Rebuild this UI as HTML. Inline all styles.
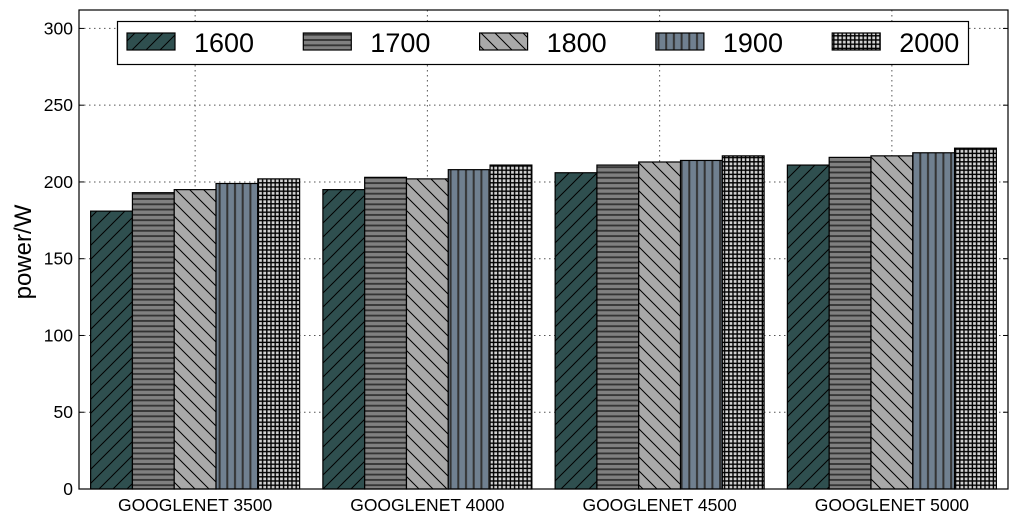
<!DOCTYPE html>
<html><head><meta charset="utf-8"><style>
body{margin:0;background:#fff;}
svg{display:block;font-family:"Liberation Sans",sans-serif;}
</style></head><body>
<svg id="chart" width="1018" height="523">
<defs>
<pattern id="p0" width="14" height="14" patternUnits="userSpaceOnUse"><rect width="14" height="14" fill="#2f4f4f"/><path d="M-1,15 L15,-1 M-2,2 L2,-2 M12,16 L16,12" stroke="#000" stroke-width="1"/></pattern>
<pattern id="p1" width="5.3" height="5.3" patternUnits="userSpaceOnUse"><rect width="5.3" height="5.3" fill="#808080"/><rect y="2" width="5.3" height="1.8" fill="#333"/></pattern>
<pattern id="p2" width="14" height="14" patternUnits="userSpaceOnUse"><rect width="14" height="14" fill="#a9a9a9"/><path d="M-1,-1 L15,15 M-2,12 L2,16 M12,-2 L16,2" stroke="#000" stroke-width="1"/></pattern>
<pattern id="p3" width="7.7" height="8" patternUnits="userSpaceOnUse"><rect width="7.7" height="8" fill="#708090"/><rect x="3" width="2" height="8" fill="#333"/></pattern>
<pattern id="p4" width="4.2" height="4.2" patternUnits="userSpaceOnUse"><rect width="4.2" height="4.2" fill="#d3d3d3"/><rect x="1.5" width="1.4" height="4.2" fill="#000"/><rect y="1.5" width="4.2" height="1.4" fill="#000"/></pattern>
</defs>
<g id="grid"></g><g id="bars"></g><g id="axes"></g>
</svg>
<script>
const categories=["GOOGLENET 3500","GOOGLENET 4000","GOOGLENET 4500","GOOGLENET 5000"];
const seriesNames=["1600","1700","1800","1900","2000"];
const s1600=[181,195,206,211];
const s1700=[193,203,211,216];
const s1800=[195,202,213,217];
const s1900=[199,208,214,219];
const s2000=[202,211,217,222];
const yTicks=[0,50,100,150,200,250,300];
const series=[s1600,s1700,s1800,s1900,s2000];
const NS="http://www.w3.org/2000/svg";
const L=79,R=1008,T=10,B=489,yMax=312;
const y=v=>B-(v/yMax)*(B-T);
const gw=(R-L)/categories.length, bw=41.8;
const xc=i=>L+gw*(i+0.5);
function mk(tag,attrs,parent){const e=document.createElementNS(NS,tag);for(const k in attrs)e.setAttribute(k,attrs[k]);parent.appendChild(e);return e;}
const grid=document.getElementById('grid'),bars=document.getElementById('bars'),axes=document.getElementById('axes');
yTicks.forEach(t=>{
 if(t>0&&t<yMax){const g=mk('line',{x1:L,x2:R,y1:y(t),y2:y(t),stroke:'#555','stroke-dasharray':'1.5,3.5'},grid);
 
 }
 const tk=mk('line',{x1:L,x2:L+5,y1:y(t),y2:y(t),stroke:'#000'},axes);
 
 
 const tk2=mk('line',{x1:R-5,x2:R,y1:y(t),y2:y(t),stroke:'#000'},axes);
 
 
 const lb=mk('text',{x:L-6,y:y(t)+6,'text-anchor':'end','font-size':17.5},axes);lb.textContent=t;
 
 
});
categories.forEach((c,i)=>{
 const g=mk('line',{x1:xc(i),x2:xc(i),y1:T,y2:B,stroke:'#555','stroke-dasharray':'1.5,3.5'},grid);
 
 
 const lb=mk('text',{x:xc(i),y:B+22,'text-anchor':'middle','font-size':17.5},axes);lb.textContent=c;
 
 
 series.forEach((s,j)=>{
  const x0=xc(i)-bw*2.5+j*bw;
  const r=mk('rect',{x:x0,y:y(s[i]),width:bw,height:B-y(s[i]),fill:'url(#p'+j+')',stroke:'#000','stroke-width':1.2},bars);
  
  
 });
});
const fr=mk('rect',{x:L,y:T,width:R-L,height:B-T,fill:'none',stroke:'#000','stroke-width':1.2},axes);


const yt=mk('text',{x:0,y:0,'font-size':24,'text-anchor':'middle',transform:'translate(31,252) rotate(-90)'},axes);yt.textContent='power/W';


const lg=mk('g',{},axes);


mk('rect',{x:117.5,y:21.5,width:851,height:43,fill:'#fff',stroke:'#000','stroke-width':1.2},lg);
seriesNames.forEach((n,j)=>{
 const px=127+j*176.3;
 const p=mk('rect',{x:px,y:33,width:48,height:17,fill:'url(#p'+j+')',stroke:'#000','stroke-width':1.2},lg);
 
 
 const t=mk('text',{x:px+67,y:52,'font-size':27},lg);t.textContent=n;
 
 
});
</script>
</body></html>
